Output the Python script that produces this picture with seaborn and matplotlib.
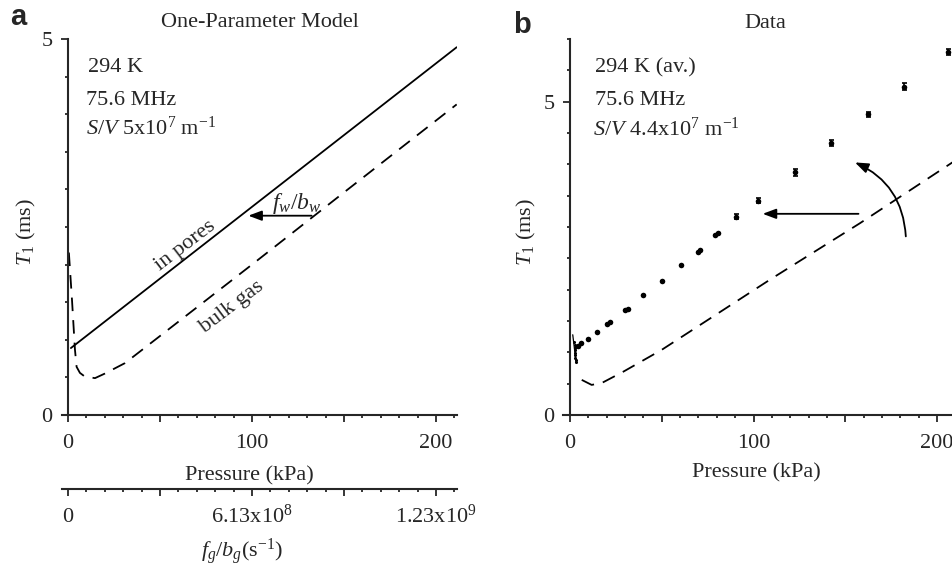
import matplotlib
matplotlib.use("Agg")
import matplotlib.pyplot as plt
from matplotlib.ticker import MultipleLocator, FixedLocator
import seaborn as sns

sns.set_style("ticks")
plt.rcParams['font.family'] = ['Liberation Serif', 'DejaVu Serif']
plt.rcParams['mathtext.fontset'] = 'custom'
plt.rcParams['mathtext.rm'] = 'Liberation Serif'
plt.rcParams['mathtext.it'] = 'Liberation Serif:italic'
plt.rcParams['mathtext.bf'] = 'Liberation Serif:bold'

FS = 16

# panel a: one-parameter model (pressure kPa, T1 ms)
pores_p = [1.6, 211.2]
pores_t = [0.89, 4.89]
bulk_p = [0.5, 2.2, 3.8, 4.7, 6.5, 9.2, 14.7, 20, 31, 50, 100, 150, 211.2]
bulk_t = [2.16, 1.53, 0.87, 0.64, 0.56, 0.51, 0.49, 0.55, 0.69, 1.05, 2.0, 2.96, 4.13]

# panel b: measured data
data_p = [4.5, 5.8, 10, 14.9, 20, 21.8, 30, 31.4, 39.6, 50, 60.5, 69.9, 70.8,
          79, 80.5, 90.3, 102.3, 122.6, 142.2, 162.6, 182.2, 205.8]
data_t = [1.10, 1.15, 1.21, 1.33, 1.45, 1.48, 1.68, 1.69, 1.91, 2.14, 2.40, 2.60, 2.64,
          2.87, 2.90, 3.16, 3.42, 3.87, 4.34, 4.80, 5.24, 5.79]
data_err = [0, 0, 0, 0, 0, 0, 0, 0, 0, 0, 0, 0, 0,
            0, 0, 0.04, 0.04, 0.05, 0.04, 0.04, 0.05, 0.05]
low_p = [2.3, 2.5, 2.6, 2.7, 2.8, 2.9, 3.0, 3.1, 3.2]
low_t = [1.17, 1.12, 1.07, 1.03, 0.99, 0.95, 0.91, 0.88, 0.85]
low_line_p = [1.5, 3.3]
low_line_t = [1.28, 0.85]
bulk_b_p = [6.4, 11.8, 17.3, 29, 50, 109, 158, 212]
bulk_b_t = [0.56, 0.48, 0.51, 0.69, 1.04, 2.16, 3.06, 4.10]

xticks = [0, 50, 100, 150, 200]
xticklabels = ['0', '', '100', '', '200']
rate_labels = ['0', '', r'6.13x10$^8$', '', r'1.23x10$^9$']

fig = plt.figure(figsize=(9.52, 5.69), dpi=100)
ax_a = fig.add_axes([0.0648, 0.2707, 0.4149, 0.6608])
ax_b = fig.add_axes([0.5916, 0.2707, 0.4158, 0.6608])


def style_axis(ax, xlim, ylim):
    ax.set_xlim(xlim)
    ax.set_ylim(ylim)
    for s in ['top', 'right']:
        ax.spines[s].set_visible(False)
    ax.spines['left'].set_position(('data', 0))
    ax.spines['left'].set_linewidth(1.5)
    ax.spines['bottom'].set_linewidth(1.5)
    ax.xaxis.set_major_locator(FixedLocator(xticks))
    ax.set_xticklabels(xticklabels)
    ax.xaxis.set_minor_locator(MultipleLocator(10))
    ax.yaxis.set_major_locator(FixedLocator([0, 5]))
    ax.yaxis.set_minor_locator(MultipleLocator(0.5))
    ax.tick_params(which='major', length=5, width=1.3, labelsize=FS, direction='out')
    ax.tick_params(which='minor', length=2.5, width=1.3, direction='out')
    ax.tick_params(axis='x', which='major', pad=9)
    ax.tick_params(axis='y', which='major', pad=6)
    ax.set_ylabel(r'$T_{\mathit{1}}$ (ms)', fontsize=FS)
    ax.yaxis.label.set_va('center')
    ax.set_xlabel('Pressure (kPa)', fontsize=FS)
    ax.xaxis.label.set_va('baseline')


dash = (0, (7.5, 5))

# ---- panel a
style_axis(ax_a, (-3.4, 211.2), (0, 5))
sns.lineplot(x=pores_p, y=pores_t, ax=ax_a, color='black', lw=1.3, sort=False, estimator=None)
sns.lineplot(x=bulk_p, y=bulk_t, ax=ax_a, color='black', lw=1.3, linestyle=dash, sort=False, estimator=None)
ax_a.yaxis.set_label_coords(-0.09, 0.487)
ax_a.xaxis.set_label_coords(0.474, -0.173)

ax_a.text(10.9, 4.56, '294 K', fontsize=FS, va='baseline')
ax_a.text(9.8, 4.12, '75.6 MHz', fontsize=FS, va='baseline')
ax_a.text(9.8, 3.73, r'$S/V$ 5x10$^7$ m$^{-1}$', fontsize=FS, va='baseline')
ax_a.text(63.6, 2.25, 'in pores', fontsize=FS, rotation=37.5, ha='center', va='center',
          rotation_mode='anchor')
ax_a.text(89, 1.43, 'bulk gas', fontsize=FS, rotation=37, ha='center', va='center',
          rotation_mode='anchor')
ax_a.text(110.7, 2.74, r'$f_w/b_w$', fontsize=FS + 1, va='baseline')
ax_a.annotate('', xy=(98, 2.65), xytext=(132.4, 2.65),
              arrowprops=dict(arrowstyle='-|>,head_length=0.8,head_width=0.3',
                              color='black', lw=1.3, shrinkA=0, shrinkB=0))

# secondary rate axis under panel a
ax_r = fig.add_axes([0.0648, 1 - 489 / 569, 0.4149, 0.001])
ax_r.set_xlim(-3.4, 211.2)
for s in ['top', 'right', 'left']:
    ax_r.spines[s].set_visible(False)
ax_r.spines['bottom'].set_linewidth(1.5)
ax_r.set_yticks([])
ax_r.set_facecolor('none')
ax_r.xaxis.set_major_locator(FixedLocator(xticks))
ax_r.set_xticklabels(rate_labels, va='baseline')
ax_r.xaxis.set_minor_locator(MultipleLocator(10))
ax_r.tick_params(which='major', length=5, width=1.3, labelsize=FS, direction='out', pad=19)
ax_r.tick_params(which='minor', length=2.5, width=1.3, direction='out')
fig.text(242 / 952, 1 - 557 / 569, r'$f_g/b_g$(s$^{-1}$)', fontsize=FS, ha='center', va='baseline')

# ---- panel b
style_axis(ax_b, (-3.7, 212), (0, 6))
sns.lineplot(x=bulk_b_p, y=bulk_b_t, ax=ax_b, color='black', lw=1.3, linestyle=dash, sort=False, estimator=None)
sns.lineplot(x=low_line_p, y=low_line_t, ax=ax_b, color='black', lw=0.9, sort=False, estimator=None)
sns.scatterplot(x=low_p, y=low_t, ax=ax_b, color='black', s=5, linewidth=0)
sns.scatterplot(x=data_p, y=data_t, ax=ax_b, color='black', s=16, linewidth=0)
ax_b.errorbar(data_p, data_t, yerr=data_err, fmt='none', ecolor='black', elinewidth=1.2,
              capsize=1.8, capthick=1.2)
ax_b.yaxis.set_label_coords(-0.094, 0.487)
ax_b.xaxis.set_label_coords(0.489, -0.165)

ax_b.text(13.6, 5.46, '294 K (av.)', fontsize=FS, va='baseline')
ax_b.text(13.6, 4.94, '75.6 MHz', fontsize=FS, va='baseline')
ax_b.text(12.7, 4.45, r'$S/V$ 4.4x10$^7$ m$^{-1}$', fontsize=FS, va='baseline')
ax_b.annotate('', xy=(105, 3.21), xytext=(157.2, 3.21),
              arrowprops=dict(arrowstyle='-|>,head_length=0.8,head_width=0.3',
                              color='black', lw=1.3, shrinkA=0, shrinkB=0))
ax_b.annotate('', xy=(155.3, 4.03), xytext=(183, 2.85),
              arrowprops=dict(arrowstyle='-|>,head_length=0.8,head_width=0.3',
                              color='black', lw=1.3, shrinkA=0, shrinkB=0,
                              connectionstyle='arc3,rad=0.3'))

# titles and panel letters
fig.text(260 / 952, 1 - 27 / 569, 'One-Parameter Model', fontsize=FS, ha='center', va='baseline')
fig.text(765 / 952, 1 - 28 / 569, 'Data', fontsize=FS, ha='center', va='baseline')
fig.text(10 / 952, 1 - 25 / 569, 'a', fontsize=21, fontweight='bold', family='Liberation Sans',
         va='baseline')
fig.text(513 / 952, 1 - 33 / 569, 'b', fontsize=21, fontweight='bold', family='Liberation Sans',
         va='baseline')

fig.savefig('out.png', dpi=100)
